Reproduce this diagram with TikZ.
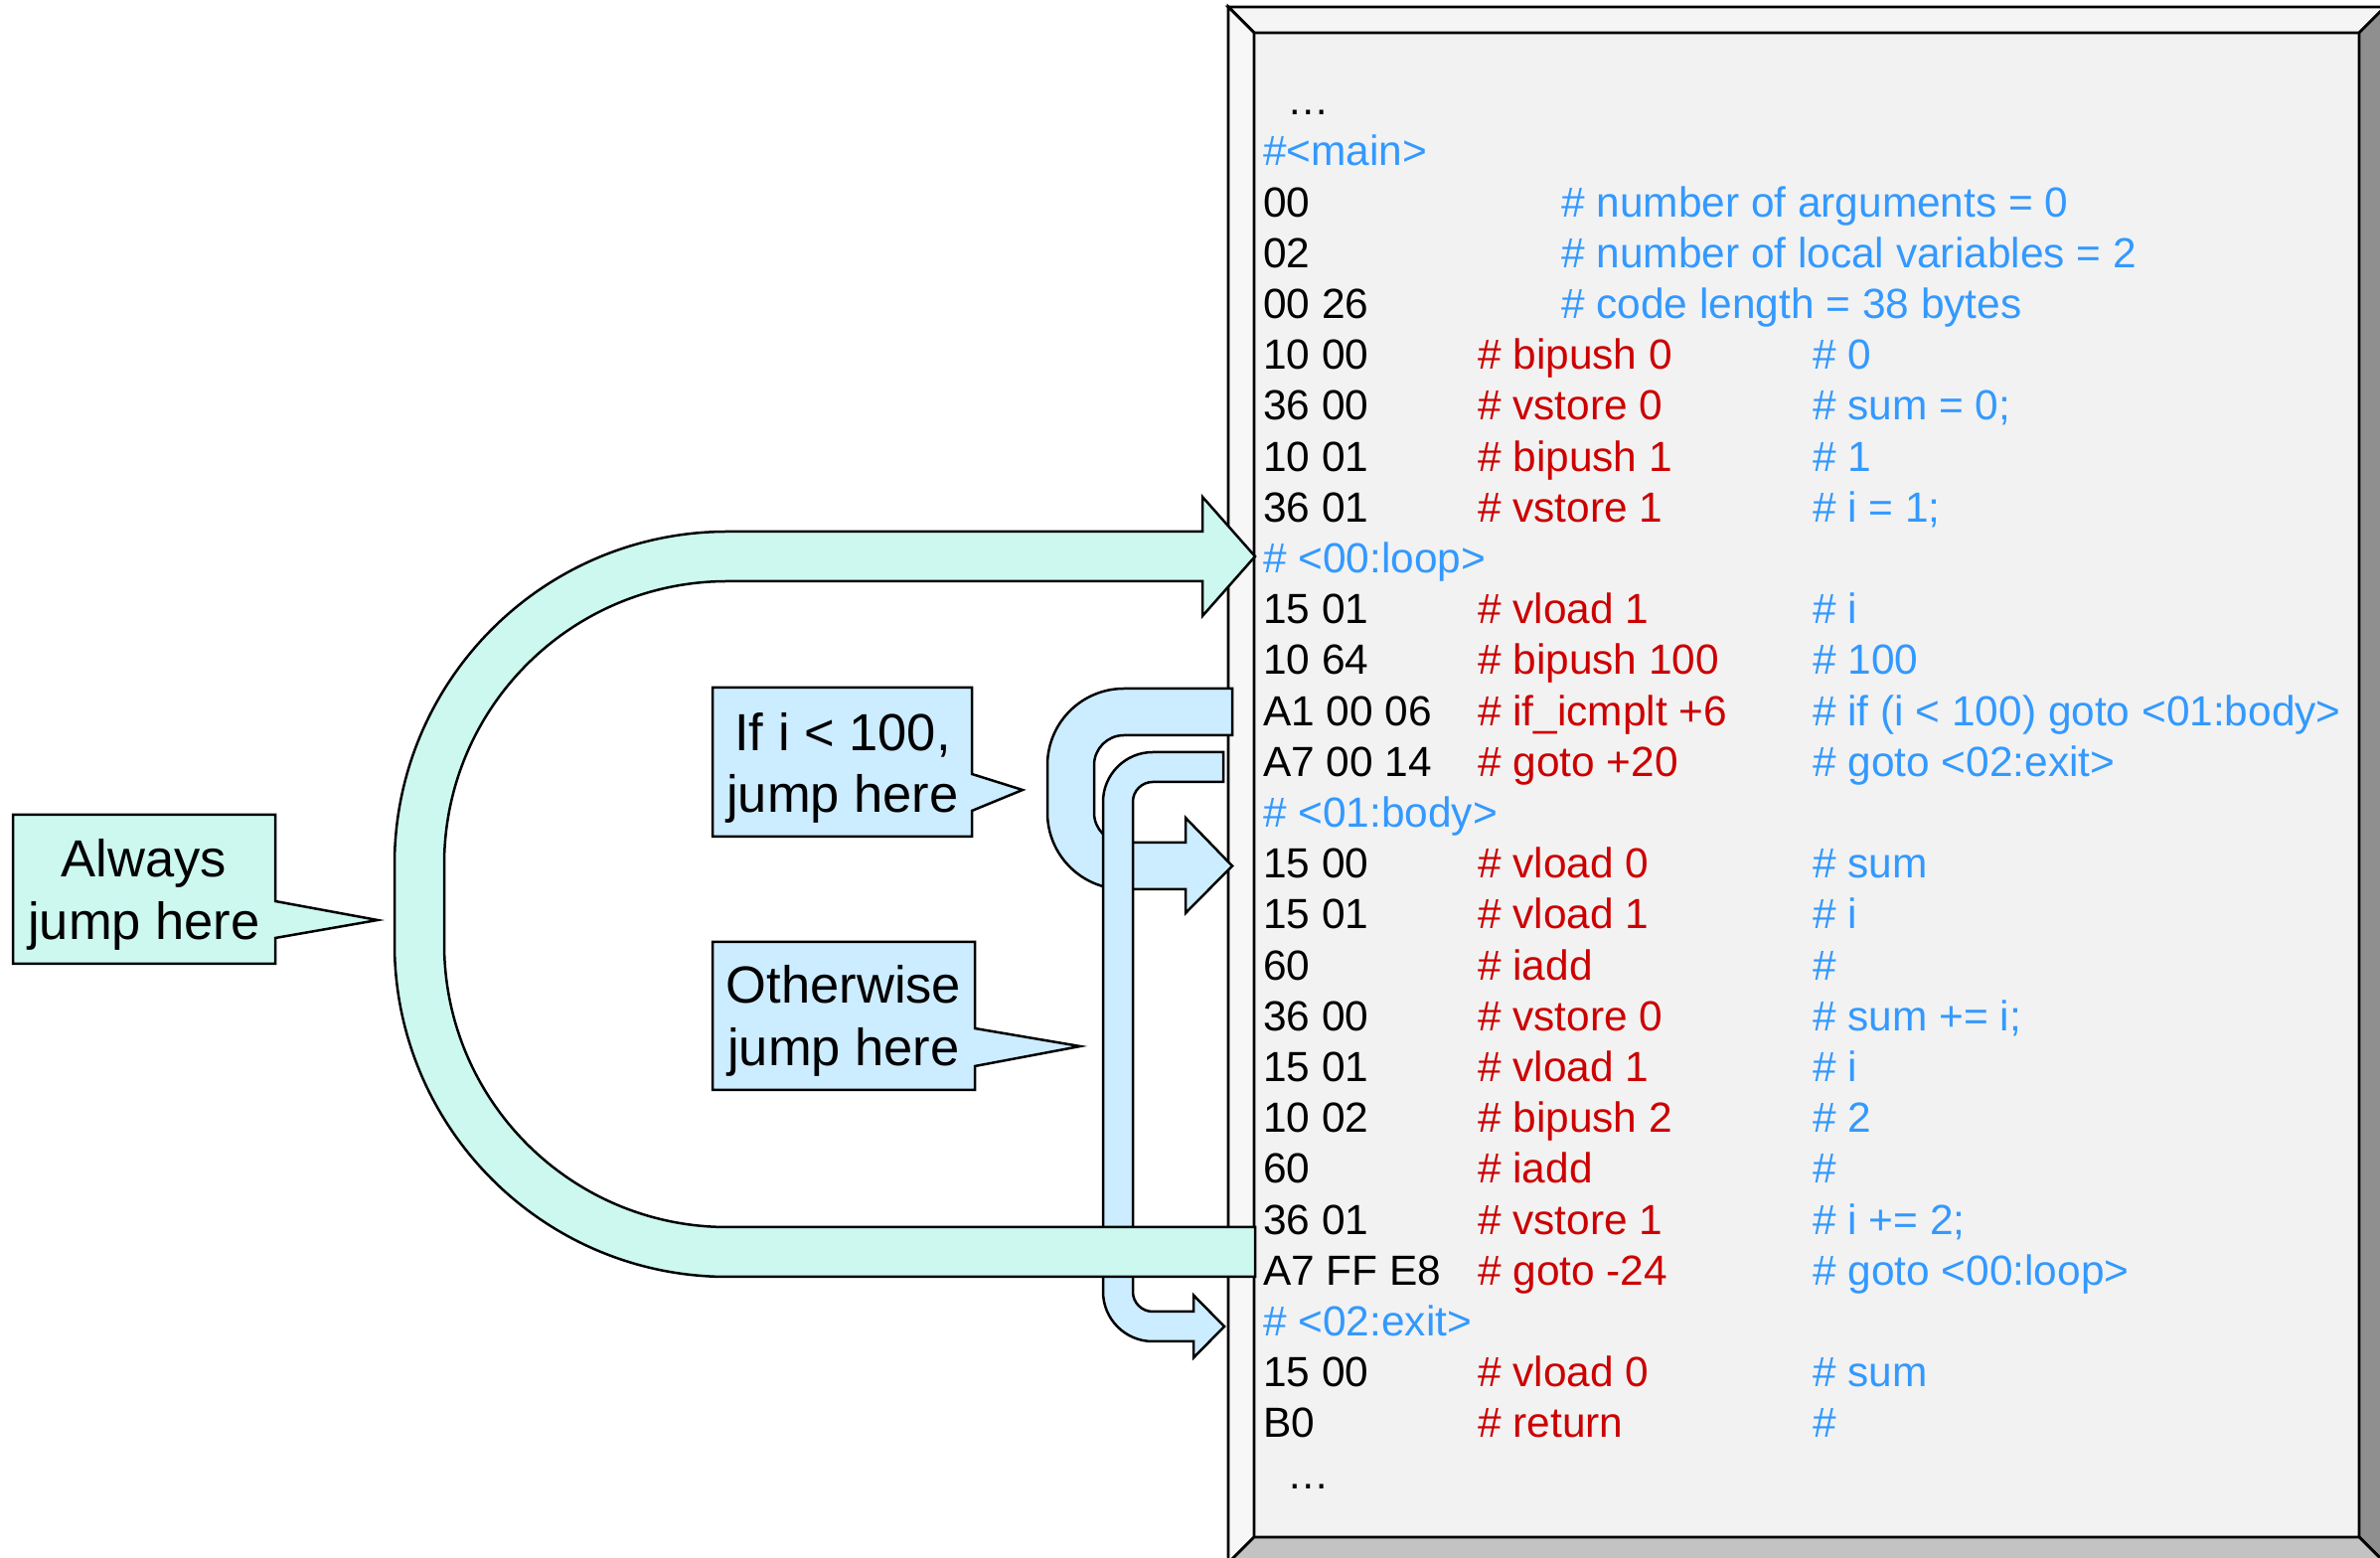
\documentclass[tikz,border=0pt]{standalone}
\usepackage{fontspec}
\setmainfont{Liberation Sans}
\definecolor{cmblue}{RGB}{51,153,255}
\definecolor{opred}{RGB}{204,0,0}
\definecolor{cyanfill}{RGB}{204,248,240}
\definecolor{bluefill}{RGB}{204,236,255}
\definecolor{boxface}{RGB}{242,242,242}
\definecolor{bevtop}{RGB}{245,245,245}
\definecolor{bevleft}{RGB}{247,247,247}
\definecolor{bevright}{RGB}{143,143,143}
\definecolor{bevbottom}{RGB}{195,195,195}
\newcommand{\codefont}{\fontsize{42.4}{51}\selectfont}
\newcommand{\callfont}{\fontsize{52.5}{63}\selectfont}
\tikzset{
  bevel/.style={draw=black, line width=2.8pt, line join=miter},
  codetext/.style={anchor=base west, inner sep=0pt, font=\codefont},
  hexc/.style={codetext, text=black},
  opc/.style={codetext, text=opred},
  cmc/.style={codetext, text=cmblue},
  calltext/.style={anchor=base, inner sep=0pt, font=\callfont, text=black},
  arrowshape/.style={draw=black, line width=2.5pt, line join=miter},
}
\begin{document}
\begin{tikzpicture}[x=1pt,y=1pt]
\useasboundingbox (0,0) rectangle (2395,1568);
% bevelled code panel
\path[bevel, fill=boxface] (1262,21) rectangle (2374,1535);
\path[bevel, fill=bevtop] (1236,1561) -- (2400,1561) -- (2374,1535) -- (1262,1535) -- cycle;
\path[bevel, fill=bevleft] (1236,1561) -- (1262,1535) -- (1262,21) -- (1236,-5) -- cycle;
\path[bevel, fill=bevright] (2400,1561) -- (2400,-5) -- (2374,21) -- (2374,1535) -- cycle;
\path[bevel, fill=bevbottom] (1236,-5) -- (2400,-5) -- (2374,21) -- (1262,21) -- cycle;

% code lines
\node[hexc] (dotstop) at (1295,{1401+51.2}) {…};
\node[cmc] (lblmain) at (1271,1401) {\#<main>};
\foreach \k/\hx/\cm in {1/00/\# number of arguments = 0,2/02/\# number of local variables = 2,3/00 26/\# code length = 38 bytes}{
  \node[hexc] (hx\k) at (1271,{1401-51.2*\k}) {\hx};
  \node[cmc] (cm\k) at (1571,{1401-51.2*\k}) {\cm};
}
\foreach \k/\hx/\op/\cm in {4/10 00/\# bipush 0/\# 0,5/36 00/\# vstore 0/\# sum = 0;,6/10 01/\# bipush 1/\# 1,7/36 01/\# vstore 1/\# i = 1;,9/15 01/\# vload 1/\# i,10/10 64/\# bipush 100/\# 100,11/A1 00 06/\# if\_icmplt +6/\# if (i < 100) goto <01:body>,12/A7 00 14/\# goto +20/\# goto <02:exit>,14/15 00/\# vload 0/\# sum,15/15 01/\# vload 1/\# i,16/60/\# iadd/\#,17/36 00/\# vstore 0/\# sum += i;,18/15 01/\# vload 1/\# i,19/10 02/\# bipush 2/\# 2,20/60/\# iadd/\#,21/36 01/\# vstore 1/\# i += 2;,22/A7 FF E8/\# goto -24/\# goto <00:loop>,24/15 00/\# vload 0/\# sum,25/B0/\# return/\#}{
  \node[hexc] (hx\k) at (1271,{1401-51.2*\k}) {\hx};
  \node[opc] (op\k) at (1487,{1401-51.2*\k}) {\op};
  \node[cmc] (cm\k) at (1824,{1401-51.2*\k}) {\cm};
}
\node[cmc] (lblloop) at (1271,{1401-51.2*8}) {\# <00:loop>};
\node[cmc] (lblbody) at (1271,{1401-51.2*13}) {\# <01:body>};
\node[cmc] (lblexit) at (1271,{1401-51.2*23}) {\# <02:exit>};
\node[hexc] (dotsbot) at (1295,{1401-51.2*26}) {…};

% arrow 1: if_icmplt -> body
\path[arrowshape, fill=bluefill] (1240,875) -- (1131,875) arc (90:180:77) -- (1054,750) arc (180:270:77)
  -- (1193,673) -- (1193,649) -- (1240,696.5) -- (1193,745) -- (1193,720) -- (1131,720)
  arc (270:180:30) -- (1101,798) arc (180:90:30) -- (1240,828) -- cycle;
% arrow 2: goto +20 -> exit
\path[arrowshape, fill=bluefill] (1231,811) -- (1160,811) arc (90:180:50) -- (1110,268) arc (180:270:50)
  -- (1201,218) -- (1201,201.5) -- (1232,233) -- (1201,264.5) -- (1201,248) -- (1160,248)
  arc (270:180:20) -- (1140,761) arc (180:90:20) -- (1231,781) -- cycle;
% big arrow: goto -24 -> loop
\path[arrowshape, fill=cyanfill] (1263,1008) -- (1210,948) -- (1210,983) -- (732,983) arc (90:180:285)
  -- (447,618) arc (180:270:285) -- (1263,333) -- (1263,283) -- (732,283) arc (270:180:335)
  -- (397,698) arc (180:90:335) -- (1210,1033) -- (1210,1068) -- cycle;

% callouts
\path[arrowshape, fill=cyanfill] (13,748) -- (277,748) -- (277,661) -- (380,642) -- (277,624) -- (277,598) -- (13,598) -- cycle;
\node[calltext] (alw1) at (145,685) {Always};
\node[calltext] (alw2) at (145,622) {jump here};

\path[arrowshape, fill=bluefill] (717,876) -- (978,876) -- (978,789) -- (1029,773) -- (978,752) -- (978,726) -- (717,726) -- cycle;
\node[calltext] (iff1) at (848,812) {If i < 100,};
\node[calltext] (iff2) at (848,750) {jump here};

\path[arrowshape, fill=bluefill] (717,620) -- (981,620) -- (981,533) -- (1087,515) -- (981,495) -- (981,471) -- (717,471) -- cycle;
\node[calltext] (oth1) at (849,558) {Otherwise};
\node[calltext] (oth2) at (849,495) {jump here};
\end{tikzpicture}
\end{document}
